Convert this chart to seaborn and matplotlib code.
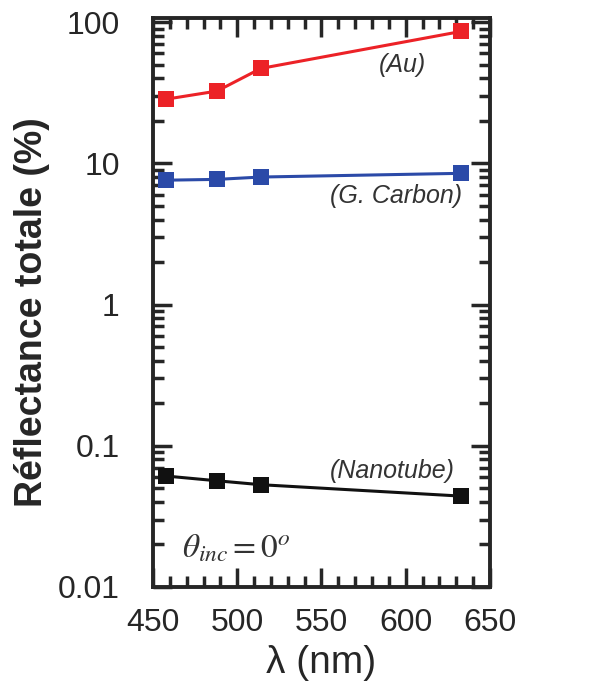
import numpy as np
import pandas as pd
import matplotlib
matplotlib.use("Agg")
import matplotlib.pyplot as plt
import seaborn as sns
from matplotlib.ticker import MultipleLocator, LogLocator, FixedLocator, NullFormatter

wavelength = [458, 488, 514, 633]
au = [28.5, 32.5, 47.0, 86.0]
g_carbon = [7.6, 7.7, 8.0, 8.5]
nanotube = [0.061, 0.0565, 0.053, 0.044]
series_names = ["(Au)", "(G. Carbon)", "(Nanotube)"]
colors = {"(Au)": "#ec2227", "(G. Carbon)": "#2b4aa8", "(Nanotube)": "#111111"}

df = pd.DataFrame({
    "wl": wavelength * 3,
    "R": au + g_carbon + nanotube,
    "s": [series_names[0]] * 4 + [series_names[1]] * 4 + [series_names[2]] * 4,
})

sns.set_style("ticks")
plt.rcParams['font.family'] = ['Liberation Sans', 'DejaVu Sans']
plt.rcParams['mathtext.fontset'] = 'stix'

fig = plt.figure(figsize=(6.03, 6.87), dpi=100)
ax = fig.add_axes([0.2537, 0.1456, 0.5589, 0.8282])

sns.lineplot(data=df, x="wl", y="R", hue="s", palette=colors, marker="s",
             markersize=11, linewidth=2.2, markeredgewidth=0, legend=False, ax=ax)

ax.set_yscale("log")
ax.set_xlim(450, 650)
ax.set_ylim(0.01, 107)

ax.xaxis.set_major_locator(MultipleLocator(50))
ax.xaxis.set_minor_locator(MultipleLocator(10))
ax.yaxis.set_major_locator(FixedLocator([0.01, 0.1, 1, 10, 100]))
ax.yaxis.set_minor_locator(LogLocator(base=10, subs=np.arange(2, 10)))
ax.yaxis.set_minor_formatter(NullFormatter())
ax.set_yticklabels(["0.01", "0.1", "1", "10", "100"])

ax.tick_params(which="both", direction="in", top=True, right=True, width=2.5)
ax.tick_params(which="major", length=14, labelsize=23)
ax.tick_params(axis="x", which="major", pad=15)
ax.tick_params(axis="y", which="major", pad=24)
ax.tick_params(which="minor", length=8)
for sp in ax.spines.values():
    sp.set_linewidth(2.8)

ax.set_xlabel("λ (nm)", fontsize=28, labelpad=5)
ax.set_ylabel("Réflectance totale (%)", fontsize=27, fontweight="bold")
ax.yaxis.set_label_coords(-0.305, 0.483)

ax.text(598, 49.5, "(Au)", fontsize=18, style="italic", color="#333333", ha="center", va="center")
ax.text(594, 5.9, "(G. Carbon)", fontsize=18, style="italic", color="#333333", ha="center", va="center")
ax.text(592, 0.0665, "(Nanotube)", fontsize=18, style="italic", color="#333333", ha="center", va="center")
ax.text(467, 0.0185, r"$\theta_{inc} = 0^{o}$", fontsize=24, color="#333333", ha="left", va="center")

fig.savefig("out.png", dpi=100)
